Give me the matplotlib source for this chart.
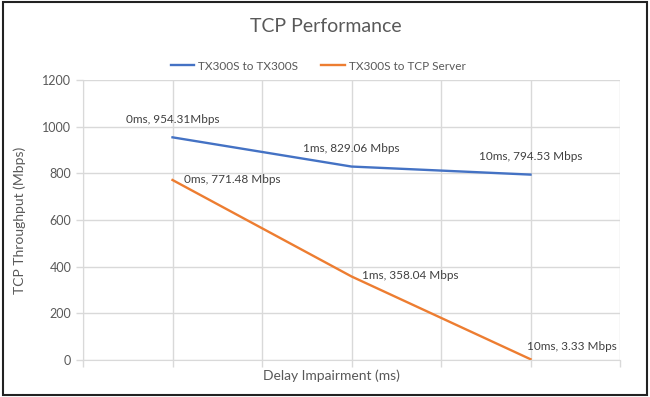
import matplotlib.pyplot as plt
from matplotlib.patches import Rectangle

# dati
delays = ['0ms', '1ms', '10ms']
tx_to_tx = [954.31, 829.06, 794.53]
tx_to_server = [771.48, 358.04, 3.33]
labels_tx = ['0ms, 954.31Mbps', '1ms, 829.06 Mbps', '10ms, 794.53 Mbps']
labels_srv = ['0ms, 771.48 Mbps', '1ms, 358.04 Mbps', '10ms, 3.33 Mbps']
yticks = [0, 200, 400, 600, 800, 1000, 1200]

plt.rcParams['font.family'] = ['Lato', 'DejaVu Sans']
txt = '#595959'
grid = '#D9D9D9'
blue = '#4472C4'
orange = '#ED7D31'

fig = plt.figure(figsize=(6.5, 3.97), dpi=100)
ax = fig.add_axes([83 / 650, 37 / 397, 537 / 650, 280 / 397])

x = list(range(len(delays)))
ax.plot(x, tx_to_tx, color=blue, linewidth=1.7, label='TX300S to TX300S')
ax.plot(x, tx_to_server, color=orange, linewidth=1.7, label='TX300S to TCP Server')

ax.set_xlim(-0.5, len(delays) - 0.5)
ax.set_ylim(0, 1200)
ax.set_yticks(yticks)
ax.set_xticks([i * 0.5 - 0.5 for i in range(2 * len(delays) + 1)])
ax.set_xticklabels([])
ax.grid(True, color=grid, linewidth=1)
ax.set_axisbelow(True)
for s in ['top', 'right']:
    ax.spines[s].set_visible(False)
for s in ['left', 'bottom']:
    ax.spines[s].set_color(grid)
ax.tick_params(axis='both', colors=grid, labelcolor=txt, labelsize=9, length=5, width=1)

# etichette dati
tx_offsets = [(0, 13), (0, 13), (0, 13)]
srv_offsets = [(43, 0), (42, 1), (30, 9)]
for i in x:
    ax.annotate(labels_tx[i], (x[i], tx_to_tx[i]), xytext=tx_offsets[i], textcoords='offset points',
                ha='center', va='center', fontsize=8.5, color='#404040')
    ax.annotate(labels_srv[i], (x[i], tx_to_server[i]), xytext=srv_offsets[i], textcoords='offset points',
                ha='center', va='center', fontsize=8.5, color='#404040', annotation_clip=False)

fig.text(20 / 650, 1 - 220 / 397, 'TCP Throughput (Mbps)', rotation=90, ha='center', va='center',
         fontsize=10, color=txt)
fig.text(331 / 650, 1 - 376 / 397, 'Delay Impairment (ms)', ha='center', va='center',
         fontsize=10, color=txt)

fig.text(326 / 650, 1 - 27 / 397, 'TCP Performance', ha='center', va='center', fontsize=14, color=txt)
fig.legend(loc='center', bbox_to_anchor=(318 / 650, 1 - 66 / 397), ncol=2, frameon=False,
           fontsize=8.5, labelcolor=txt, handlelength=2.0, columnspacing=2.0, handletextpad=0.3)

fig.patches.append(Rectangle((0.004, 0.006), 0.992, 0.988, transform=fig.transFigure,
                             fill=False, edgecolor='#222222', linewidth=1.5))

fig.savefig('out.png', dpi=100)
